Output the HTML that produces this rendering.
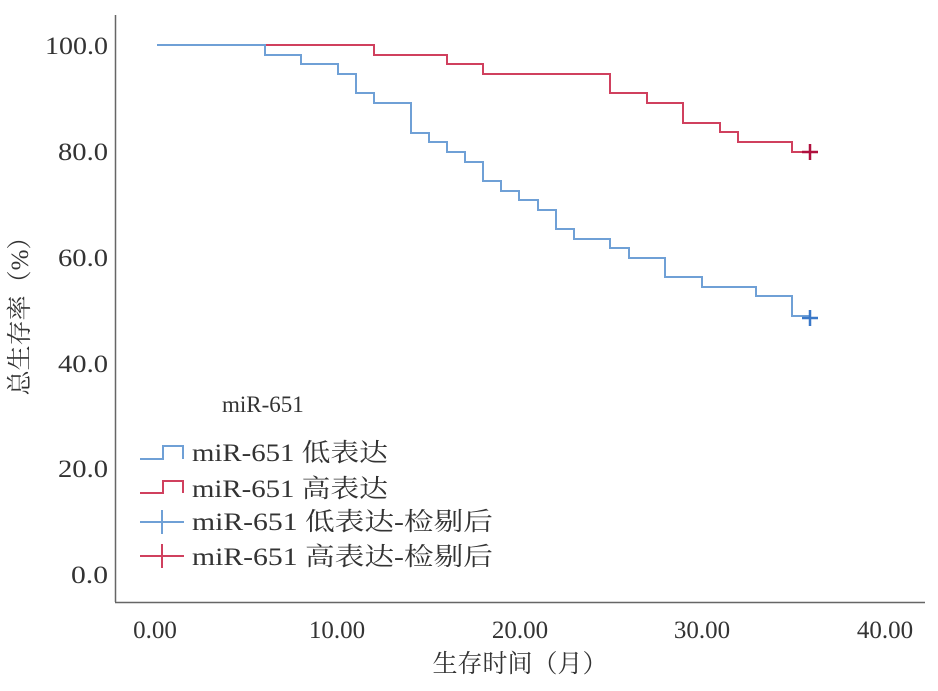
<!DOCTYPE html>
<html><head><meta charset="utf-8"><style>
body{margin:0;background:#fff}
text{font-family:"Liberation Serif","Noto Serif CJK SC",serif;fill:#333}
</style></head><body>
<svg width="938" height="686" viewBox="0 0 938 686">
<line x1="115.5" y1="15" x2="115.5" y2="602" stroke="#666" stroke-width="1.5"/>
<line x1="115" y1="602.5" x2="925" y2="602.5" stroke="#666" stroke-width="1.5"/>
<g font-size="25">
<text x="45" y="54" textLength="63" lengthAdjust="spacingAndGlyphs">100.0</text><text x="58" y="160" textLength="50" lengthAdjust="spacingAndGlyphs">80.0</text><text x="58" y="266" textLength="50" lengthAdjust="spacingAndGlyphs">60.0</text>
<text x="58" y="372" textLength="50" lengthAdjust="spacingAndGlyphs">40.0</text><text x="58" y="477" textLength="50" lengthAdjust="spacingAndGlyphs">20.0</text><text x="71" y="583" textLength="37" lengthAdjust="spacingAndGlyphs">0.0</text>
</g>
<g font-size="25" text-anchor="middle">
<text x="155" y="638">0.00</text><text x="337" y="638">10.00</text><text x="520" y="638">20.00</text>
<text x="702" y="638">30.00</text><text x="885" y="638">40.00</text>
<text x="520" y="672" font-size="25">生存时间（月）</text>
</g>
<text transform="translate(28,310) rotate(-90)" font-size="25" text-anchor="middle">总生存率（%）</text>
<path fill="none" stroke="#d0405e" stroke-width="2" d="M157 45H374V55H447V64H483V74H610V93H647V103H683V123H720V132H738V142H792V152H810"/>
<path fill="none" stroke="#6fa0d6" stroke-width="2" d="M157 45H265V55H301V64H338V74H356V93H374V103H411V133H429V142H447V152H465V162H483V181H501V191H519V200H538V210H556V229H574V239H610V248H629V258H665V277H702V287H756V296H792V316H810"/>
<path stroke="#b0103e" stroke-width="2.5" d="M802 152H818M810 144V160"/>
<path stroke="#3a78c8" stroke-width="2.5" d="M802 318H818M810 310V326"/>
<text x="222" y="412" font-size="23">miR-651</text>
<path fill="none" stroke="#6fa0d6" stroke-width="2" d="M140 459H163V446H183V459"/>
<path fill="none" stroke="#d0405e" stroke-width="2" d="M140 493H163V481H183V493"/>
<path stroke="#6fa0d6" stroke-width="2" d="M140 522H184M162 510V534"/>
<path stroke="#d0405e" stroke-width="2" d="M140 556H184M162 544V568"/>
<g font-size="25">
<text x="192" y="461" textLength="196" lengthAdjust="spacingAndGlyphs">miR-651 低表达</text>
<text x="192" y="497" textLength="196" lengthAdjust="spacingAndGlyphs">miR-651 高表达</text>
<text x="192" y="530" textLength="301" lengthAdjust="spacingAndGlyphs">miR-651 低表达-检剔后</text>
<text x="192" y="565" textLength="301" lengthAdjust="spacingAndGlyphs">miR-651 高表达-检剔后</text>
</g>
</svg>
</body></html>
